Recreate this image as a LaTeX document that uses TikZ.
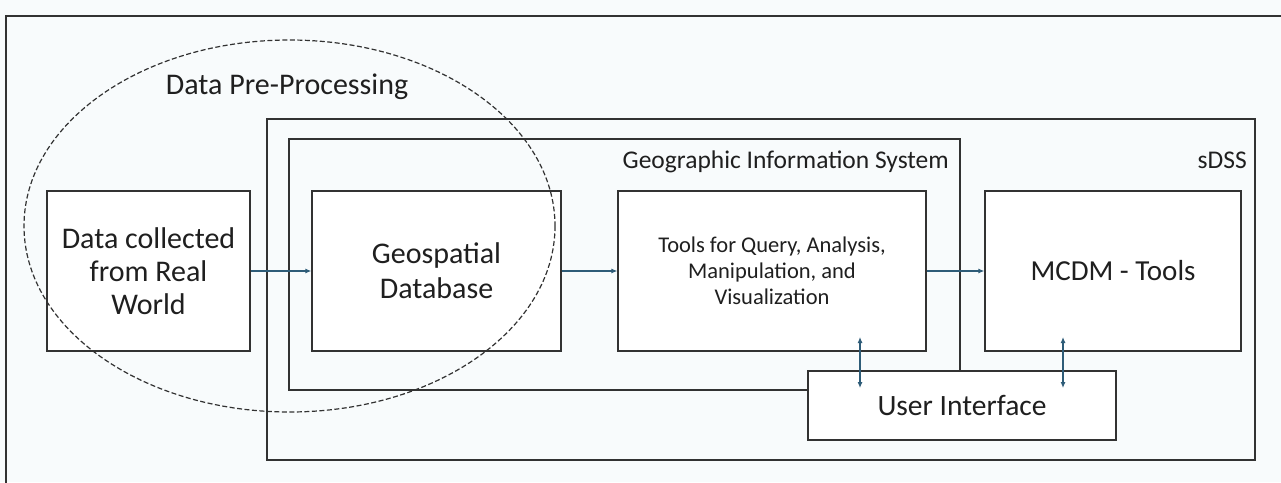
\documentclass[tikz,border=0pt]{standalone}
\usepackage{fontspec}
\setmainfont{Carlito}
\usetikzlibrary{arrows.meta,calc}
\definecolor{bgc}{RGB}{248,251,252}
\definecolor{linec}{RGB}{50,50,50}
\definecolor{arrc}{RGB}{46,92,120}
\begin{document}
\begin{tikzpicture}[x=1pt,y=-1pt,
  box/.style={draw=linec,line width=1.3pt,fill=white,minimum width=#1,inner sep=2pt,align=center,text=black!88},
  lbl/.style={font=\fontsize{25.5}{30}\selectfont,text=black!88,inner sep=0pt},
  flow/.style={draw=arrc,line width=1.1pt,-{Latex[length=6pt,width=5pt]}},
  both/.style={draw=arrc,line width=1.1pt,{Latex[length=6pt,width=5pt]}-{Latex[length=6pt,width=5pt]}},
  frame/.style={draw=linec,line width=1.3pt}]
\useasboundingbox (0,0) rectangle (1281,482);
\fill[bgc] (0,0) rectangle (1281,482);
\begin{scope}
\clip (0,0) rectangle (1281,482);
\draw[frame] (6,16) rectangle (1300,500);
\end{scope}
% sDSS
\draw[frame] (267,119) rectangle (1255,460);
\node[lbl,anchor=base east] (sdsslbl) at (1247,168) {sDSS};
% GIS
\draw[frame] (289,139) rectangle (960,390);
\node[lbl,anchor=base east] (gislbl) at (949,168) {Geographic Information System};
% boxes
\node[box=203pt,minimum height=160pt,font=\fontsize{30}{33}\selectfont] (data) at (148.5,271) {Data collected\\from Real\\World};
\node[box=249pt,minimum height=160pt,font=\fontsize{30}{35}\selectfont] (geo) at (436.5,271) {Geospatial\\Database};
\node[box=308pt,minimum height=160pt,font=\fontsize{22.5}{26}\selectfont] (tools) at (772,271) {Tools for Query, Analysis,\\Manipulation, and\\Visualization};
\node[box=256pt,minimum height=160pt,font=\fontsize{29}{30}\selectfont] (mcdm) at (1113,271) {MCDM - Tools};
\node[box=308pt,minimum height=69pt,font=\fontsize{29.5}{30}\selectfont] (ui) at (962,405.5) {User Interface};
% arrows
\draw[flow] (data.east) -- (geo.west);
\draw[flow] (geo.east) -- (tools.west);
\draw[flow] (tools.east) -- (mcdm.west);
\coordinate (t1) at (860,337);
\coordinate (u1) at (860,388);
\coordinate (t2) at (1063,337);
\coordinate (u2) at (1063,388);
\draw[both] (t1) -- (u1);
\draw[both] (t2) -- (u2);
% ellipse
\draw[linec,line width=1.2pt,dash pattern=on 5pt off 2.5pt] (289.5,226) ellipse [x radius=265.5, y radius=186];
\node[font=\fontsize{30}{32}\selectfont,text=black!88] (pre) at (287,87) {Data Pre-Processing};
\end{tikzpicture}
\end{document}
